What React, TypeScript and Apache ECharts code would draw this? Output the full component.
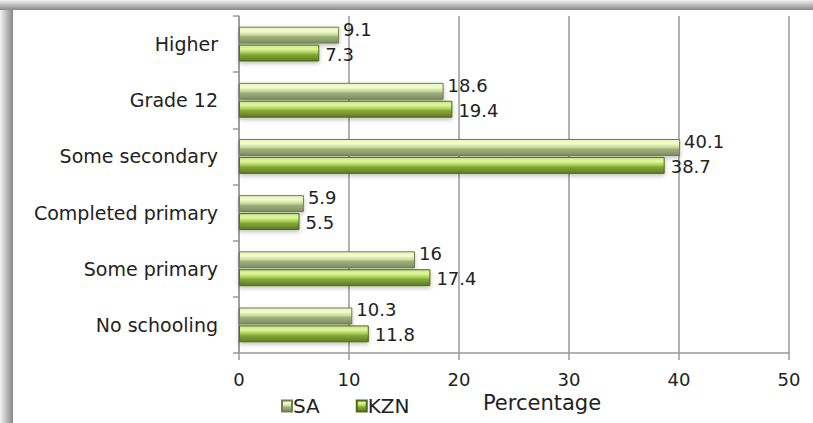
import React, { useEffect, useRef } from "react";
import * as echarts from "echarts";

const categories = ["No schooling", "Some primary", "Completed primary", "Some secondary", "Grade 12", "Higher"];
const saValues = [10.3, 16, 5.9, 40.1, 18.6, 9.1];
const kznValues = [11.8, 17.4, 5.5, 38.7, 19.4, 7.3];
const xTicks = { min: 0, max: 50, interval: 10 };

const FONT = "DejaVu Sans";

const saGrad = new echarts.graphic.LinearGradient(0, 0, 0, 1, [
  { offset: 0, color: "#e8f4b8" },
  { offset: 0.25, color: "#f4fccf" },
  { offset: 0.5, color: "#c7d99a" },
  { offset: 0.6, color: "#9fb07c" },
  { offset: 1, color: "#7e8e60" },
]);
const kznGrad = new echarts.graphic.LinearGradient(0, 0, 0, 1, [
  { offset: 0, color: "#c9e57c" },
  { offset: 0.25, color: "#def7a0" },
  { offset: 0.5, color: "#a5c94e" },
  { offset: 0.6, color: "#86a83a" },
  { offset: 1, color: "#5d7a22" },
]);

export default function App() {
  const ref = useRef<HTMLDivElement>(null);
  useEffect(() => {
    if (!ref.current) return;
    const chart = echarts.init(ref.current, undefined, { renderer: "svg" });
    chart.setOption({
      animation: false,
      backgroundColor: "#ffffff",
      textStyle: { fontFamily: FONT },
      graphic: [
        {
          type: "rect",
          shape: { x: 0, y: 0, width: 13, height: 423 },
          style: {
            fill: new echarts.graphic.LinearGradient(0, 0, 1, 0, [
              { offset: 0, color: "#f2f2f2" },
              { offset: 1, color: "#888888" },
            ]),
          },
          silent: true,
          z: -1,
        },
        {
          type: "rect",
          shape: { x: 0, y: 0, width: 813, height: 10 },
          style: {
            fill: new echarts.graphic.LinearGradient(0, 0, 0, 1, [
              { offset: 0, color: "#f2f2f2" },
              { offset: 1, color: "#888888" },
            ]),
          },
          silent: true,
          z: -1,
        },
      ],
      legend: {
        left: 276,
        top: 391,
        itemWidth: 10,
        itemHeight: 11,
        itemGap: 36,
        icon: "rect",
        textStyle: { fontFamily: FONT, fontSize: 20, color: "#222", padding: [0, 0, 0, -4] },
        data: ["SA", "KZN"],
      },
      grid: { left: 239, right: 24, top: 16, bottom: 70, containLabel: false },
      xAxis: {
        type: "value",
        min: xTicks.min,
        max: xTicks.max,
        interval: xTicks.interval,
        name: "Percentage",
        nameLocation: "middle",
        nameGap: 37,
        nameTextStyle: { fontFamily: FONT, fontSize: 21, color: "#222", padding: [0, 0, 0, 56] },
        axisLine: { show: true, lineStyle: { color: "#999", width: 1.5 } },
        axisTick: { show: true, inside: false, length: 7, lineStyle: { color: "#999", width: 1.5 } },
        axisLabel: { fontFamily: FONT, fontSize: 18, color: "#222", margin: 17 },
        splitLine: { show: true, lineStyle: { color: "#999", width: 1.5 } },
      },
      yAxis: {
        type: "category",
        data: categories,
        axisLine: { show: true, lineStyle: { color: "#999", width: 1.5 } },
        axisTick: { show: true, inside: false, length: 6, lineStyle: { color: "#999", width: 1.5 } },
        axisLabel: { fontFamily: FONT, fontSize: 19, color: "#222", margin: 21 },
      },
      series: [
        {
          name: "SA",
          type: "bar",
          data: saValues,
          barGap: "6%",
          barCategoryGap: "38%",
          itemStyle: {
            color: saGrad,
            borderColor: "#6f7f52",
            borderWidth: 1,
            shadowColor: "rgba(0,0,0,0.25)",
            shadowBlur: 4,
            shadowOffsetY: 2,
          },
          label: {
            show: true,
            position: "right",
            distance: 4,
            offset: [0, -6],
            fontFamily: FONT,
            fontSize: 18,
            color: "#222",
          },
        },
        {
          name: "KZN",
          type: "bar",
          data: kznValues,
          itemStyle: {
            color: kznGrad,
            borderColor: "#4f6a1a",
            borderWidth: 1,
            shadowColor: "rgba(0,0,0,0.25)",
            shadowBlur: 4,
            shadowOffsetY: 2,
          },
          label: {
            show: true,
            position: "right",
            distance: 6,
            offset: [0, 1],
            fontFamily: FONT,
            fontSize: 18,
            color: "#222",
          },
        },
      ],
    });
    return () => chart.dispose();
  }, []);
  return <div ref={ref} style={{ width: 813, height: 423, position: "absolute", left: 0, top: 0 }} />;
}
